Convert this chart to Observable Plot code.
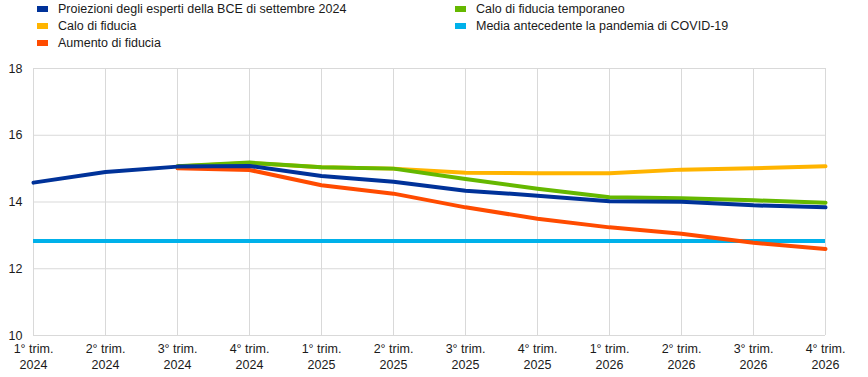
<!DOCTYPE html>
<html>
<head>
<meta charset="utf-8">
<script src="https://cdn.jsdelivr.net/npm/d3@7"></script>
<script src="https://cdn.jsdelivr.net/npm/@observablehq/plot@0.6"></script>
<style>
  body { margin: 0; background: #fff; font-family: "Liberation Sans", Arial, sans-serif; }
  #wrap { position: relative; width: 868px; height: 377px; }
  #legend { position: relative; height: 58px; width: 868px; font-size: 12.5px; color: #1a1a1a; }
  .item { position: absolute; display: flex; align-items: center; white-space: nowrap; }
  .sw { width: 11px; height: 6px; margin-right: 10px; }
  svg { display: block; }
</style>
</head>
<body>
<div id="wrap">
  <div id="legend"></div>
  <div id="chart"></div>
</div>
<script>
const quarters = ["1° trim.", "2° trim.", "3° trim.", "4° trim.", "1° trim.", "2° trim.", "3° trim.", "4° trim.", "1° trim.", "2° trim.", "3° trim.", "4° trim."];
const years = ["2024", "2024", "2024", "2024", "2025", "2025", "2025", "2025", "2026", "2026", "2026", "2026"];
const periods = quarters.map((q, i) => q + " " + years[i]);

const seriesNames = [
  "Proiezioni degli esperti della BCE di settembre 2024",
  "Calo di fiducia temporaneo",
  "Calo di fiducia",
  "Media antecedente la pandemia di COVID-19",
  "Aumento di fiducia"
];
const seriesColors = ["#003299", "#65b800", "#ffb400", "#00b1ea", "#ff4b00"];

const projezioni = [14.58, 14.90, 15.06, 15.08, 14.78, 14.61, 14.34, 14.19, 14.02, 14.01, 13.90, 13.84];
const caloTemporaneo = [null, null, 15.07, 15.18, 15.04, 15.00, 14.69, 14.40, 14.14, 14.11, 14.05, 13.98];
const caloFiducia = [null, null, 15.06, 15.17, 15.04, 15.00, 14.88, 14.86, 14.86, 14.97, 15.01, 15.07];
const mediaPreCovid = 12.83;
const aumentoFiducia = [null, null, 15.01, 14.96, 14.50, 14.25, 13.84, 13.50, 13.24, 13.05, 12.78, 12.59];

const yTicks = [10, 12, 14, 16, 18];

// legend (two columns)
const legendPos = [
  [37, 9], [455, 9], [37, 26], [455, 26], [37, 43]
];
const legendOrder = [0, 1, 2, 3, 4];
const legend = document.getElementById("legend");
legendOrder.forEach((k, i) => {
  const d = document.createElement("div");
  d.className = "item";
  d.style.left = legendPos[i][0] + "px";
  d.style.top = (legendPos[i][1] - 8) + "px";
  d.style.height = "16px";
  d.innerHTML = `<span class="sw" style="background:${seriesColors[k]}"></span><span>${seriesNames[k]}</span>`;
  legend.appendChild(d);
});

const toRows = arr => periods.map((p, i) => ({x: p, y: arr[i]}));

const lineOpts = {x: "x", y: "y", strokeWidth: 4, curve: "linear"};

const chart = Plot.plot({
  width: 868,
  height: 319,
  marginLeft: 33,
  marginRight: 43,
  marginTop: 10,
  marginBottom: 42,
  style: {fontFamily: "'Liberation Sans', Arial, sans-serif", fontSize: "12.5px", color: "#1a1a1a", background: "#fff"},
  x: {type: "point", domain: periods, padding: 0, label: null},
  y: {domain: [10, 18], ticks: yTicks, label: null},
  marks: [
    Plot.gridX({stroke: "#d9d9d9", strokeOpacity: 1, strokeWidth: 1}),
    Plot.gridY(yTicks, {stroke: "#d9d9d9", strokeOpacity: 1, strokeWidth: 1}),
    Plot.axisY(yTicks, {tickSize: 0, tickPadding: 11, label: null, fill: "#1a1a1a"}),
    Plot.axisX({tickSize: 0, tickPadding: 9, label: null, tickFormat: (d) => quarters[periods.indexOf(d)], fill: "#1a1a1a"}),
    Plot.axisX({tickSize: 0, tickPadding: 25, label: null, tickFormat: (d) => years[periods.indexOf(d)], fill: "#1a1a1a"}),
    Plot.ruleY([mediaPreCovid], {stroke: seriesColors[3], strokeWidth: 4}),
    Plot.line(toRows(aumentoFiducia), {...lineOpts, stroke: seriesColors[4]}),
    Plot.line(toRows(caloFiducia), {...lineOpts, stroke: seriesColors[2]}),
    Plot.line(toRows(caloTemporaneo), {...lineOpts, stroke: seriesColors[1]}),
    Plot.line(toRows(projezioni), {...lineOpts, stroke: seriesColors[0]})
  ]
});
document.getElementById("chart").appendChild(chart);
</script>
</body>
</html>
